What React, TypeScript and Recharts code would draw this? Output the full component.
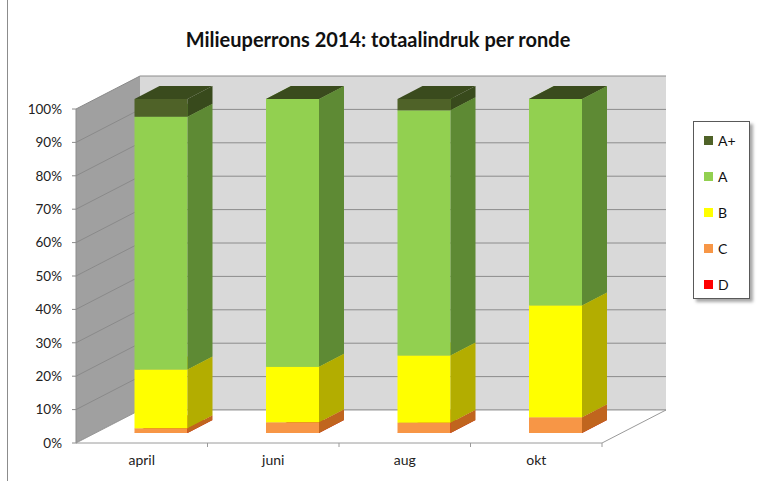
import { Bar, BarChart, Legend, ReferenceArea, XAxis, YAxis } from "recharts";

const categories = ["april", "juni", "aug", "okt"];
const seriesD = [0, 0, 0, 0];
const seriesC = [1.4, 3.2, 3.1, 4.7];
const seriesB = [17.6, 16.6, 20.1, 33.5];
const seriesA = [75.7, 80.2, 73.4, 61.8];
const seriesAPlus = [5.3, 0, 3.4, 0];
const yTicks = [0, 10, 20, 30, 40, 50, 60, 70, 80, 90, 100];

const data = categories.map((name, i) => ({
  name,
  D: seriesD[i],
  C: seriesC[i],
  B: seriesB[i],
  A: seriesA[i],
  Aplus: seriesAPlus[i],
}));

// bottom to top, the legend lists them the other way round
const SERIES = [
  { key: "D", name: "D", front: "#ff0000", side: "#b30000", top: "#cc0000" },
  { key: "C", name: "C", front: "#f79646", side: "#c0651e", top: "#d97a2c" },
  { key: "B", name: "B", front: "#ffff00", side: "#b3ad00", top: "#d6d300" },
  { key: "A", name: "A", front: "#92d050", side: "#5e8a34", top: "#76ad3e" },
  { key: "Aplus", name: "A+", front: "#4f6228", side: "#384a1c", top: "#3a4b1d" },
];

const FONT = "Lato, 'Open Sans', sans-serif";
const DX = 64; // depth of the 3d box
const DY = 33;
const BAR_DX0 = 19.5; // bar front sits a bit inside the box
const BAR_DY0 = 10;
const BAR_DX = 25;
const BAR_DY = 13;

function Walls(props: any) {
  const { x, y, width: w, height: h } = props;
  const yv = (t: number) => y + h - (t / 100) * h;
  const bottom = y + h;
  return (
    <g>
      <rect x={x + DX} y={y - DY} width={w} height={h} fill="#d9d9d9" />
      <polygon
        points={`${x},${bottom} ${x},${y} ${x + DX},${y - DY} ${x + DX},${bottom - DY}`}
        fill="#a0a0a0"
      />
      {yTicks.map((t) => (
        <g key={t}>
          <line x1={x + DX} y1={yv(t) - DY} x2={x + DX + w} y2={yv(t) - DY} stroke="#8c8c8c" strokeWidth={1} />
          <line x1={x} y1={yv(t)} x2={x + DX} y2={yv(t) - DY} stroke="#8a8a8a" strokeWidth={1} />
        </g>
      ))}
      <polygon
        points={`${x},${bottom} ${x + DX},${bottom - DY} ${x + DX + w},${bottom - DY} ${x + w},${bottom}`}
        fill="#ffffff"
        stroke="#9a9a9a"
        strokeWidth={1}
      />
      {categories.map((_, i) => (
        <line
          key={i}
          x1={x + ((i + 1) * w) / categories.length}
          y1={bottom}
          x2={x + ((i + 1) * w) / categories.length}
          y2={bottom + 4}
          stroke="#9a9a9a"
        />
      ))}
    </g>
  );
}

function makeBox(s: (typeof SERIES)[number]) {
  return (props: any) => {
    const { x, y, width: w, height } = props;
    if (x == null || y == null) return <g />;
    const h = Math.max(0, height || 0);
    const fx = x + BAR_DX0;
    const fy = y - BAR_DY0;
    return (
      <g>
        <rect x={fx} y={fy} width={w} height={h} fill={s.front} />
        <polygon
          points={`${fx + w},${fy + h} ${fx + w},${fy} ${fx + w + BAR_DX},${fy - BAR_DY} ${fx + w + BAR_DX},${fy + h - BAR_DY}`}
          fill={s.side}
        />
        <polygon
          points={`${fx},${fy} ${fx + w},${fy} ${fx + w + BAR_DX},${fy - BAR_DY} ${fx + BAR_DX},${fy - BAR_DY}`}
          fill={s.top}
        />
      </g>
    );
  };
}

function LegendBox() {
  const items = [...SERIES].reverse();
  return (
    <div
      style={{
        width: 55,
        height: 176,
        border: "1px solid #595959",
        background: "#fff",
        boxShadow: "3px 3px 3px rgba(0,0,0,0.35)",
        fontFamily: FONT,
        fontSize: 14,
        color: "#111",
        boxSizing: "content-box",
      }}
    >
      {items.map((it) => (
        <div key={it.key} style={{ height: 36, display: "flex", alignItems: "center", paddingLeft: 10 }}>
          <span style={{ width: 9, height: 9, background: it.front, display: "inline-block", marginRight: 5 }} />
          <span>{it.name}</span>
        </div>
      ))}
    </div>
  );
}

export default function App() {
  return (
    <div style={{ position: "absolute", left: 0, top: 0, width: 760, height: 481, background: "#fff" }}>
      <div style={{ position: "absolute", left: 7, top: 0, width: 1, height: 481, background: "#8c8c8c" }} />
      <div
        style={{
          position: "absolute",
          left: 0,
          width: 756,
          top: 27,
          textAlign: "center",
          fontFamily: FONT,
          fontWeight: 700,
          fontSize: 20,
          color: "#111",
        }}
      >
        Milieuperrons 2014: totaalindruk per ronde
      </div>
      <BarChart
        width={760}
        height={481}
        data={data}
        margin={{ top: 109, right: 158, bottom: 8, left: 6 }}
        style={{ position: "absolute", left: 0, top: 0 }}
      >
        <XAxis
          dataKey="name"
          height={30}
          tickLine={false}
          tickSize={4}
          tickMargin={8}
          axisLine={false}
          tick={{ fill: "#222", fontSize: 14, fontFamily: FONT }}
        />
        <YAxis
          width={70}
          domain={[0, 100]}
          ticks={yTicks}
          tickFormatter={(v: number) => `${v}%`}
          tickSize={4}
          tickMargin={10}
          axisLine={{ stroke: "#8c8c8c" }}
          tickLine={{ stroke: "#8c8c8c" }}
          tick={{ fill: "#222", fontSize: 13.5, fontFamily: FONT }}
        />
        <ReferenceArea y1={0} y2={100} shape={Walls} ifOverflow="visible" />
        {SERIES.map((s) => (
          <Bar
            key={s.key}
            dataKey={s.key}
            name={s.name}
            stackId="a"
            fill={s.front}
            barSize={53}
            shape={makeBox(s)}
            isAnimationActive={false}
          />
        ))}
        <Legend
          layout="vertical"
          align="center"
          verticalAlign="middle"
          content={LegendBox}
          wrapperStyle={{ left: 693, top: 121, width: 57 }}
        />
      </BarChart>
    </div>
  );
}
